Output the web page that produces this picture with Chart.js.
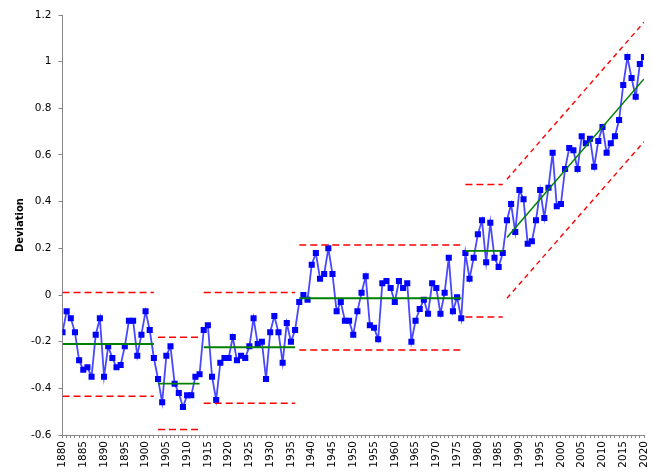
<!DOCTYPE html>
<html>
<head>
<meta charset="utf-8">
<script src="https://cdn.jsdelivr.net/npm/chart.js@4.4.1/dist/chart.umd.min.js"></script>
<style>
  html, body { margin: 0; padding: 0; background: #ffffff; }
  #wrap { width: 652px; height: 475px; }
</style>
</head>
<body>
<div id="wrap"><canvas id="c" width="652" height="475"></canvas></div>
<script>
// ---- data ----
const years = [];
for (let y = 1880; y <= 2020; y++) years.push(y);

const deviation = [
  -0.16, -0.07, -0.10, -0.16, -0.28, -0.32, -0.31, -0.35, -0.17, -0.10,
  -0.35, -0.22, -0.27, -0.31, -0.30, -0.22, -0.11, -0.11, -0.26, -0.17,
  -0.07, -0.15, -0.27, -0.36, -0.46, -0.26, -0.22, -0.38, -0.42, -0.48,
  -0.43, -0.43, -0.35, -0.34, -0.15, -0.13, -0.35, -0.45, -0.29, -0.27,
  -0.27, -0.18, -0.28, -0.26, -0.27, -0.22, -0.10, -0.21, -0.20, -0.36,
  -0.16, -0.09, -0.16, -0.29, -0.12, -0.20, -0.15, -0.03, 0.00, -0.02,
  0.13, 0.18, 0.07, 0.09, 0.20, 0.09, -0.07, -0.03, -0.11, -0.11,
  -0.17, -0.07, 0.01, 0.08, -0.13, -0.14, -0.19, 0.05, 0.06, 0.03,
  -0.03, 0.06, 0.03, 0.05, -0.20, -0.11, -0.06, -0.02, -0.08, 0.05,
  0.03, -0.08, 0.01, 0.16, -0.07, -0.01, -0.10, 0.18, 0.07, 0.16,
  0.26, 0.32, 0.14, 0.31, 0.16, 0.12, 0.18, 0.32, 0.39, 0.27,
  0.45, 0.41, 0.22, 0.23, 0.32, 0.45, 0.33, 0.46, 0.61, 0.38,
  0.39, 0.54, 0.63, 0.62, 0.54, 0.68, 0.65, 0.67, 0.55, 0.66,
  0.72, 0.61, 0.65, 0.68, 0.75, 0.90, 1.02, 0.93, 0.85, 0.99,
  1.02
];

// flat segments (center line and control limits)
const segStart  = [1880, 1903, 1914, 1937, 1977];
const segEnd    = [1902, 1913, 1936, 1976, 1986];
const segCenter = [-0.21, -0.38, -0.224, -0.014, 0.189];
const segUcl    = [0.011, -0.181, 0.011, 0.214, 0.474];
const segLcl    = [-0.434, -0.576, -0.464, -0.236, -0.094];

// trend segment
const trendYears  = [1987, 2020];
const trendCenter = [0.246, 0.926];
const trendUcl    = [0.496, 1.169];
const trendLcl    = [-0.014, 0.657];

const yTicks = [-0.6, -0.4, -0.2, 0, 0.2, 0.4, 0.6, 0.8, 1, 1.2];

// ---- build datasets ----
const RED = '#ff0000', GREEN = '#008000';
const datasets = [];
function addLine(pts, color, dash, width) {
  datasets.push({
    type: 'line',
    data: pts,
    borderColor: color,
    borderWidth: width,
    borderDash: dash,
    pointRadius: 0,
    pointHoverRadius: 0,
    fill: false,
    tension: 0
  });
}
for (let i = 0; i < segStart.length; i++) {
  addLine([{x: segStart[i], y: segCenter[i]}, {x: segEnd[i], y: segCenter[i]}], GREEN, [], 1.8);
  addLine([{x: segStart[i], y: segUcl[i]}, {x: segEnd[i], y: segUcl[i]}], RED, [7, 4], 1.5);
  addLine([{x: segStart[i], y: segLcl[i]}, {x: segEnd[i], y: segLcl[i]}], RED, [7, 4], 1.5);
}
addLine(trendYears.map((x, i) => ({x, y: trendCenter[i]})), GREEN, [], 1.5);
addLine(trendYears.map((x, i) => ({x, y: trendUcl[i]})), RED, [5, 4], 1.4);
addLine(trendYears.map((x, i) => ({x, y: trendLcl[i]})), RED, [5, 4], 1.4);

datasets.push({
  type: 'line',
  data: years.map((x, i) => ({x, y: deviation[i]})),
  borderColor: '#4848ff',
  borderWidth: 1.8,
  pointStyle: 'rect',
  pointRadius: 4.3,
  pointBackgroundColor: '#0000ff',
  pointBorderColor: '#0000ff',
  pointBorderWidth: 0,
  fill: false,
  tension: 0
});

const FONT = 'DejaVu Sans';
new Chart(document.getElementById('c'), {
  type: 'line',
  data: { datasets },
  options: {
    responsive: false,
    devicePixelRatio: 1,
    animation: false,
    events: [],
    layout: { padding: { top: 15, right: 8, left: 0, bottom: 0 } },
    plugins: { legend: { display: false }, tooltip: { enabled: false } },
    scales: {
      x: {
        type: 'linear',
        min: 1880,
        max: 2020,
        afterBuildTicks: (s) => { s.ticks = years.map(v => ({value: v})); },
        afterFit: (s) => { s.height = 40; s.paddingLeft = 0; s.paddingRight = 0; },
        ticks: {
          autoSkip: false,
          maxRotation: 90,
          minRotation: 90,
          padding: 3,
          color: '#000000',
          font: { family: FONT, size: 10.5 },
          callback: (v) => (v % 5 === 0 ? String(v) : '')
        },
        grid: { drawOnChartArea: false, drawTicks: true, tickLength: 3, color: '#868686' },
        border: { color: '#868686', width: 1 }
      },
      y: {
        type: 'linear',
        min: -0.6,
        max: 1.2,
        afterBuildTicks: (s) => { s.ticks = yTicks.map(v => ({value: v})); },
        afterFit: (s) => { s.width = 62.5; s.paddingTop = 0; s.paddingBottom = 0; },
        ticks: {
          padding: 7,
          color: '#000000',
          font: { family: FONT, size: 10.5 },
          callback: (v) => String(Number(Number(v).toFixed(1)))
        },
        grid: { drawOnChartArea: false, drawTicks: true, tickLength: 4, color: '#868686' },
        border: { color: '#868686', width: 1 },
        title: {
          display: true,
          text: 'Deviation',
          color: '#000000',
          font: { family: FONT, size: 10, weight: 'bold' },
          padding: { top: 14, bottom: 4 }
        }
      }
    }
  }
});
</script>
</body>
</html>
